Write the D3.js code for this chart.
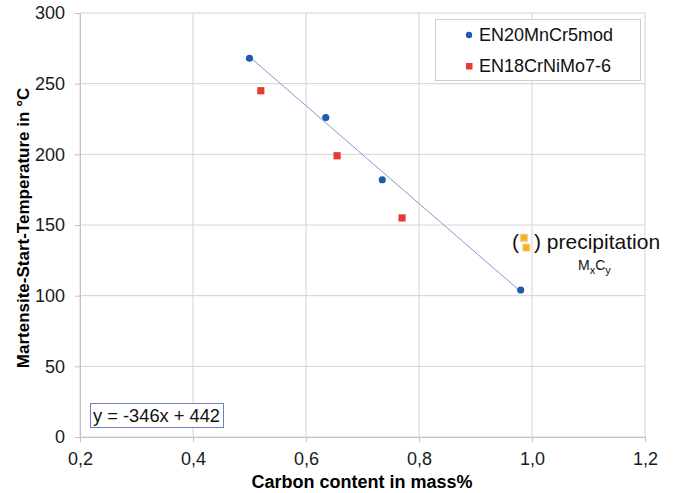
<!DOCTYPE html>
<html>
<head>
<meta charset="utf-8">
<script src="https://cdn.jsdelivr.net/npm/d3@7"></script>
<style>
  body { margin: 0; background: #fff; }
  svg { font-family: "Liberation Sans", Arial, Helvetica, sans-serif; }
</style>
</head>
<body>
<div id="chart"></div>
<script>
// series
const mnCrX = [0.50, 0.635, 0.735, 0.98];
const mnCrY = [268, 226, 182, 104];
const niMoX = [0.52, 0.655, 0.77];
const niMoY = [245, 199, 155];
const precipX = [0.986, 0.99];
const precipY = [141, 134];
const xTicks = [0.2, 0.4, 0.6, 0.8, 1.0, 1.2];
const yTicks = [0, 50, 100, 150, 200, 250, 300];
const seriesNames = ["EN20MnCr5mod", "EN18CrNiMo7-6"];
const trendSlope = -346, trendIntercept = 442;
const trendRange = [0.50, 0.98];

const W = 678, H = 493;
const margin = { top: 13, right: 33, bottom: 56, left: 80 };
const width = W - margin.left - margin.right;
const height = H - margin.top - margin.bottom;

const svg = d3.select("#chart").append("svg")
  .attr("width", W).attr("height", H);
const g = svg.append("g")
  .attr("transform", `translate(${margin.left},${margin.top})`);

const x = d3.scaleLinear().domain([0.2, 1.2]).range([0, width]);
const y = d3.scaleLinear().domain([0, 300]).range([height, 0]);

// grid lines
g.append("g").selectAll("line").data(yTicks).enter().append("line")
  .attr("x1", 0).attr("x2", width)
  .attr("y1", d => y(d)).attr("y2", d => y(d))
  .attr("stroke", "#d4d4d4");
g.append("g").selectAll("line").data(xTicks).enter().append("line")
  .attr("y1", 0).attr("y2", height)
  .attr("x1", d => x(d)).attr("x2", d => x(d))
  .attr("stroke", "#d4d4d4");

const fmt = d => d3.format(".1f")(d).replace(".", ",");

// axes
const xAxis = g.append("g")
  .attr("transform", `translate(0,${height})`)
  .call(d3.axisBottom(x).tickValues(xTicks).tickFormat(fmt).tickSize(5).tickPadding(10));
const yAxis = g.append("g")
  .call(d3.axisLeft(y).tickValues(yTicks).tickSize(5).tickPadding(10));
[xAxis, yAxis].forEach(a => {
  a.select(".domain").attr("stroke", "#c4c4c4");
  a.selectAll(".tick line").attr("stroke", "#c4c4c4");
  a.selectAll(".tick text").attr("fill", "#1a1a1a")
    .style("font-size", "18px").style("font-family", "Liberation Sans, Arial, sans-serif");
});

// axis titles
svg.append("text")
  .attr("x", 362).attr("y", 488)
  .attr("text-anchor", "middle")
  .style("font-weight", "bold").style("font-size", "18px")
  .text("Carbon content in mass%");
svg.append("text")
  .attr("transform", `translate(29,228) rotate(-90)`)
  .attr("text-anchor", "middle")
  .style("font-weight", "bold").style("font-size", "17px")
  .text("Martensite-Start-Temperature in °C");

// trend line
g.append("line")
  .attr("x1", x(trendRange[0])).attr("y1", y(trendSlope * trendRange[0] + trendIntercept))
  .attr("x2", x(trendRange[1])).attr("y2", y(trendSlope * trendRange[1] + trendIntercept))
  .attr("stroke", "#8797d6").attr("stroke-width", 1);

// points
g.selectAll(".mn").data(mnCrX).enter().append("circle")
  .attr("cx", d => x(d)).attr("cy", (d, i) => y(mnCrY[i]))
  .attr("r", 3.6).attr("fill", "#1f5bab");
g.selectAll(".ni").data(niMoX).enter().append("rect")
  .attr("x", d => x(d) - 3.6).attr("y", (d, i) => y(niMoY[i]) - 3.6)
  .attr("width", 7.2).attr("height", 7.2).attr("fill", "#e83a33");

// precipitation note
g.selectAll(".pr").data(precipX).enter().append("rect")
  .attr("x", d => x(d) - 3.5).attr("y", (d, i) => y(precipY[i]) - 3.5)
  .attr("width", 7).attr("height", 7)
  .attr("fill", "#f6b21c").attr("stroke", "#f3cf98").attr("stroke-width", 1);
svg.append("text").attr("x", 512).attr("y", 249)
  .style("font-size", "21px").attr("fill", "#111").text("(");
svg.append("text").attr("x", 534).attr("y", 249)
  .style("font-size", "21px").attr("fill", "#111").text(") precipitation");
const mc = svg.append("text").attr("x", 578).attr("y", 270)
  .style("font-size", "14px").attr("fill", "#111");
mc.append("tspan").text("M");
mc.append("tspan").attr("dy", 4).style("font-size", "11px").text("x");
mc.append("tspan").attr("dy", -4).text("C");
mc.append("tspan").attr("dy", 4).style("font-size", "11px").text("y");

// equation box
svg.append("rect").attr("x", 90.5).attr("y", 403.5).attr("width", 133).attr("height", 24)
  .attr("fill", "#fff").attr("stroke", "#6a7fc8");
svg.append("text").attr("x", 93).attr("y", 422)
  .style("font-size", "18.3px").attr("fill", "#111")
  .text(`y = ${trendSlope}x + ${trendIntercept}`);

// legend
svg.append("rect").attr("x", 435.5).attr("y", 19.5).attr("width", 205).attr("height", 61)
  .attr("fill", "#fff").attr("stroke", "#cfcfcf");
const leg = svg.append("g");
leg.append("circle").attr("cx", 469).attr("cy", 35).attr("r", 3.2).attr("fill", "#1f5bab");
leg.append("rect").attr("x", 466).attr("y", 63).attr("width", 6.5).attr("height", 6.5).attr("fill", "#e83a33");
leg.selectAll("text").data(seriesNames).enter().append("text")
  .attr("x", 479).attr("y", (d, i) => 41 + i * 31)
  .style("font-size", "18px").attr("fill", "#111")
  .text(d => d);
</script>
</body>
</html>
